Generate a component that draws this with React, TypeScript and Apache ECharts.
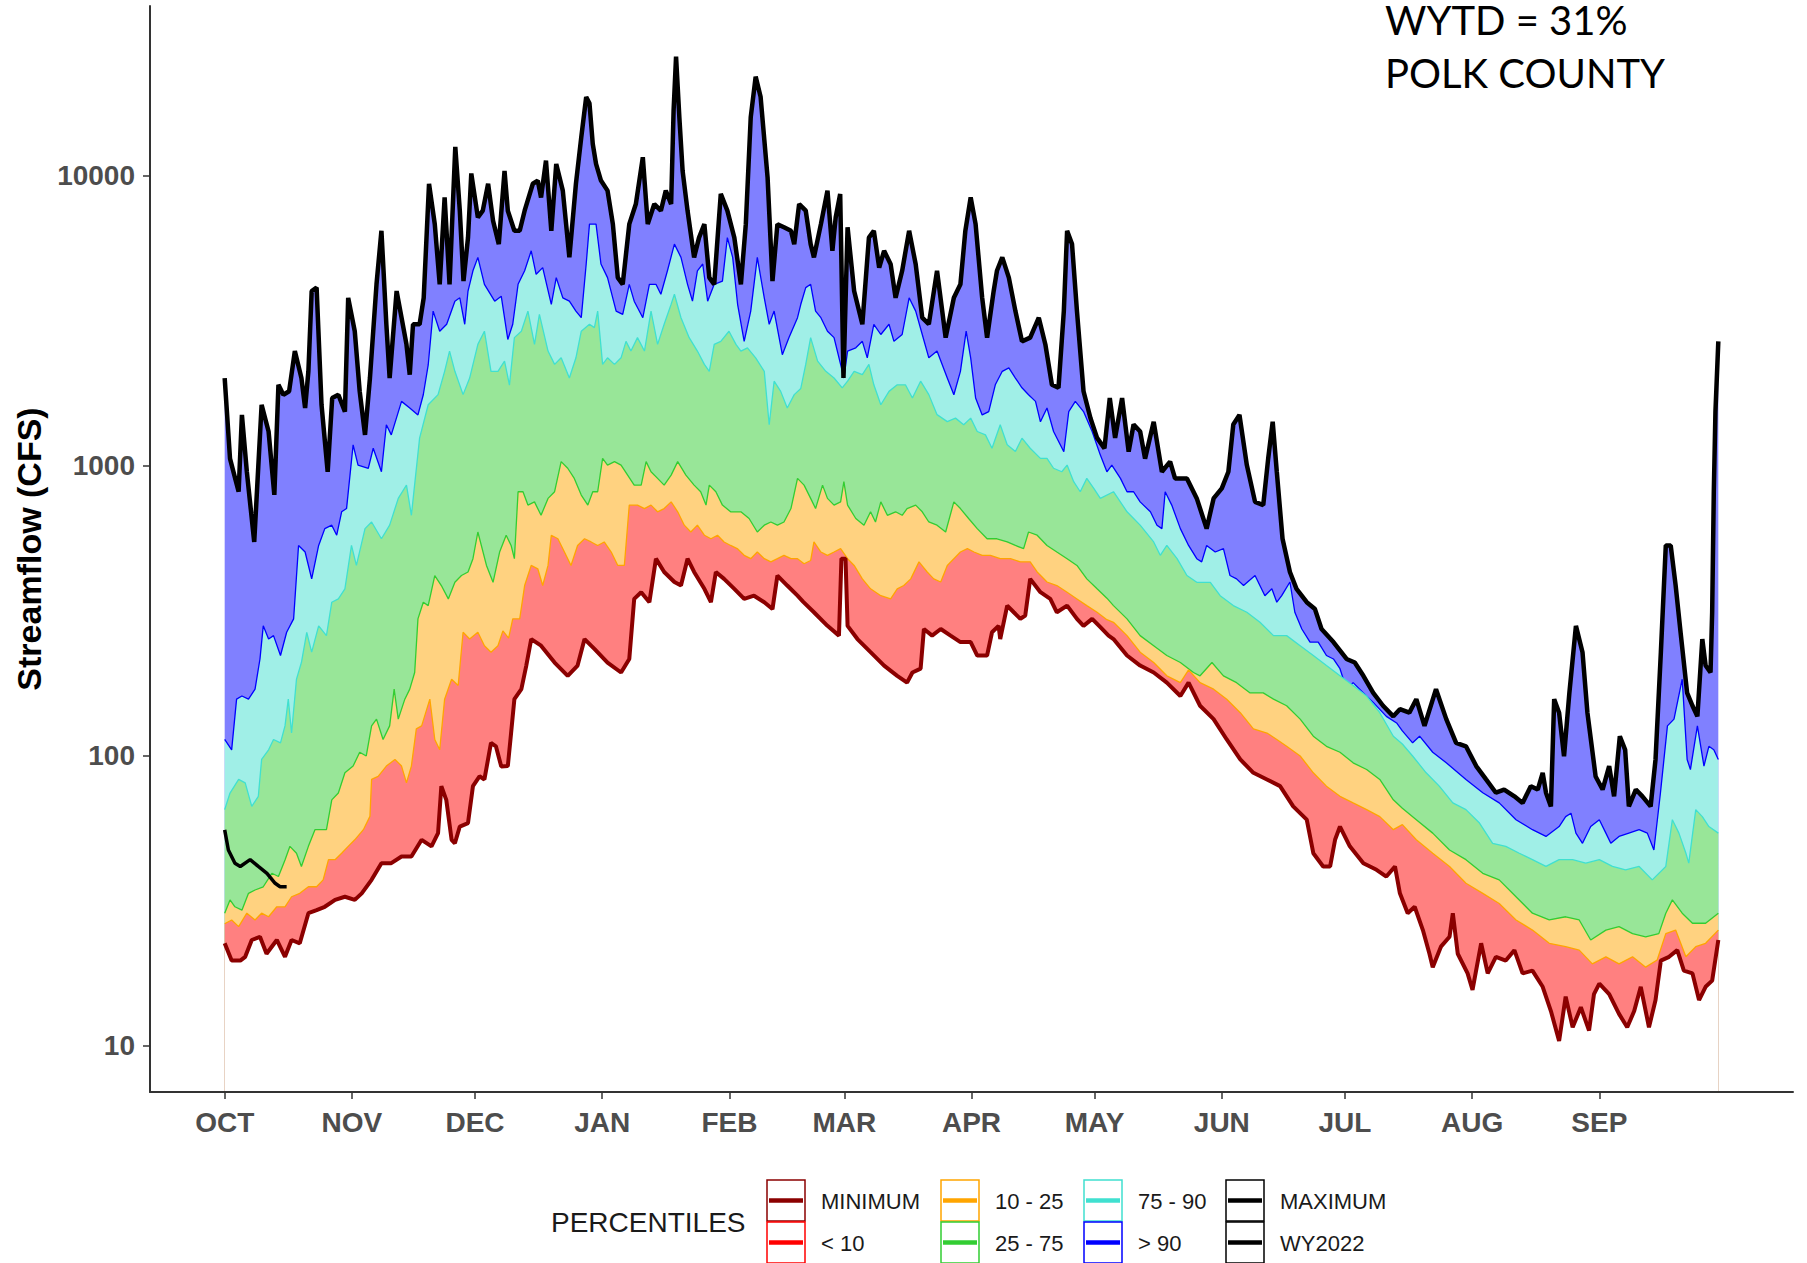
import React, { useEffect, useRef } from "react";
import * as echarts from "echarts";

// Day of water year (0 = Oct 1) for each month tick
const monthDays = [0, 31, 61, 92, 123, 151, 182, 212, 243, 273, 304, 335];
const monthLabels = ["OCT", "NOV", "DEC", "JAN", "FEB", "MAR", "APR", "MAY", "JUN", "JUL", "AUG", "SEP"];
const yTickValues = [10, 100, 1000, 10000];

// [day of water year, streamflow cfs]
const maxFlow: [number, number][] = [
  [0, 2010], [1.3, 1060], [3.4, 815], [4.2, 1500], [5.4, 955], [7.2, 547], [9, 1625], [10.7, 1315], [12.1, 795], [13.1, 1905],
  [14.3, 1760], [15.7, 1810], [17.1, 2490], [18.7, 2010], [19.6, 1585], [20.4, 2120], [21.2, 4010], [22.4, 4120], [23.6, 1625], [25.1, 955],
  [26.2, 1715], [27.7, 1760], [29.3, 1540], [30.1, 3800], [31.7, 2915], [32.9, 1810], [34.2, 1280], [35.4, 2010], [37, 4230], [38.2, 6470],
  [39.4, 3080], [40.2, 2010], [41.9, 4010], [43.1, 3245], [44.3, 2625], [45.1, 2065], [45.9, 3080], [47.5, 3080], [48.5, 3800], [49.8, 9400],
  [51.2, 6820], [52.4, 4230], [53.6, 8430], [54.8, 4230], [56.2, 12600], [57.3, 7590], [58.2, 4340], [59.3, 6130], [60.1, 10200], [61.7, 7190],
  [62.9, 7590], [64.2, 9400], [65.4, 7010], [66.8, 5820], [68.2, 10400], [69, 7590], [70.6, 6470], [71.9, 6470], [73.1, 7590], [75.1, 9400],
  [76.3, 9640], [77.1, 8430], [78.3, 11300], [79.6, 6470], [80.8, 11000], [82.4, 8900], [84, 5240], [85.6, 9400], [86.9, 13600], [88.1, 18700],
  [88.9, 17800], [89.7, 12900], [90.5, 11000], [91.7, 9640], [93.3, 8900], [94.6, 6820], [95.8, 4460], [97, 4230], [98.6, 6820], [100.2, 8000],
  [101.9, 11600], [103.1, 6820], [104.7, 8000], [106.3, 7590], [107.5, 8900], [108.8, 8000], [109.4, 16800], [110, 25800], [110.8, 15950], [111.6, 10400],
  [112.8, 7590], [114.4, 5240], [115.6, 6130], [116.9, 6820], [118.1, 4460], [119.3, 4230], [120.9, 8670], [122.5, 7590], [124.2, 6130], [125.8, 4230],
  [127, 6820], [128.2, 15950], [129.4, 22000], [130.6, 18750], [132.3, 9900], [133.5, 4340], [134.7, 6820], [136.3, 6650], [138, 6470], [138.8, 5820],
  [140, 8000], [141.6, 7590], [142.8, 5820], [143.6, 5240], [145.3, 6820], [146.9, 8900], [148.1, 5520], [148.9, 7190], [150, 8670], [150.8, 2010],
  [151.8, 6650], [153.4, 4010], [155.4, 3080], [157, 6130], [158.2, 6470], [159.5, 4830], [160.7, 5520], [162.3, 4960], [163.5, 3800], [165.1, 4710],
  [166.8, 6470], [168.4, 4960], [170, 3245], [171.6, 3080], [173.6, 4710], [175.7, 2770], [177.7, 3800], [179.3, 4230], [180.5, 6470], [181.8, 8430],
  [183, 6820], [184.6, 3800], [185.8, 2770], [187.4, 4010], [188.2, 4710], [189.5, 5240], [191.1, 4460], [192.7, 3420], [194.3, 2690], [196.3, 2770],
  [198.4, 3245], [200, 2625], [201.6, 1905], [203.2, 1860], [204.5, 3420], [205.3, 6470], [206.5, 5820], [207.7, 3420], [209.3, 1810], [211, 1460],
  [212.6, 1250], [214.4, 1150], [215.7, 1715], [217, 1250], [218.7, 1715], [220.3, 1120], [221.5, 1390], [223.1, 1315], [224.3, 1060], [226.4, 1420],
  [228.4, 955], [230.4, 1035], [231.6, 906], [234.5, 906], [236.9, 773], [239.3, 608], [241, 773], [243, 837], [244.6, 955], [245.8, 1390],
  [247.3, 1500], [249.1, 1007], [251.1, 752], [253.1, 733], [254.3, 1060], [255.4, 1420], [256.4, 955], [257.8, 561], [259.6, 431], [261.2, 377],
  [263.7, 339], [265.7, 321], [267.3, 274], [270.2, 247], [273.4, 216], [275.4, 210], [277.5, 189], [279.9, 165], [282.3, 149], [284.8, 137],
  [286.4, 145], [288.7, 141], [290.4, 157], [292.4, 127], [295.2, 170], [297.7, 134], [300.1, 111], [302.5, 108], [305, 92.3], [307.4, 83],
  [309.8, 74.7], [311.8, 76.6], [314.3, 72.6], [316.3, 68.9], [318.3, 78.7], [320, 76.6], [321.2, 87.5], [322, 74.7], [323.2, 67], [324, 157],
  [325.2, 141], [326.4, 99.8], [327.7, 165], [329.3, 281], [330.9, 228], [332.1, 141], [334.1, 85], [335.8, 76.6], [337.4, 92.3], [338.6, 72.6],
  [340, 117], [341.3, 105], [342.2, 67], [343.9, 76.6], [345.5, 72.6], [347.5, 67], [348.7, 97.3], [350, 228], [351.2, 532], [352.4, 532],
  [353.6, 387], [354.8, 267], [356.4, 165], [357.7, 149], [358.9, 137], [360.1, 253], [360.9, 205], [362.1, 194], [362.5, 313], [362.9, 815],
  [363.3, 1540], [364, 2690],
];

const p90Flow: [number, number][] = [
  [0, 114], [1.7, 105], [2.9, 157], [4.2, 161], [5.8, 157], [7.4, 170], [8.6, 216], [9.4, 281], [10.7, 253], [11.9, 260],
  [13.6, 222], [15.1, 267], [16.8, 297], [18, 532], [19.6, 505], [21.2, 408], [22.9, 532], [24.4, 608], [26.1, 625], [27.3, 577],
  [28.5, 695], [29.7, 713], [31.3, 1183], [32.5, 1007], [35, 982], [36.2, 1151], [38.2, 955], [39.4, 1387], [40.6, 1280], [43.1, 1670],
  [45.1, 1585], [47.1, 1500], [48.4, 1760], [49.6, 2230], [50.8, 3420], [52.4, 2915], [54.1, 3080], [56.1, 3700], [57.3, 3800], [58.5, 3080],
  [59.3, 4010], [60.5, 4710], [61.7, 5240], [63.3, 4230], [65.8, 3700], [67.4, 3850], [69, 2730], [70.2, 3080], [71.5, 4230], [73.1, 4710],
  [74.7, 5520], [75.9, 4580], [77.5, 4830], [79.6, 3610], [80.8, 4460], [82.4, 3800], [84, 3700], [85.6, 3420], [86.9, 3245], [88.1, 4970],
  [88.9, 6820], [90.5, 6820], [91.7, 4970], [93.3, 4460], [95.4, 3420], [97, 3330], [98.6, 4230], [99.8, 3700], [101.9, 3245], [103.5, 4230],
  [105.1, 4230], [106.3, 3910], [107.9, 4710], [109.6, 5820], [111.2, 5240], [112.8, 4230], [114, 3700], [115.2, 4710], [116.5, 4970], [117.7, 3700],
  [119.3, 4230], [121.3, 4340], [122.5, 6130], [123.8, 5240], [125, 3610], [126.6, 2690], [128.2, 3420], [129.8, 5240], [131.5, 3800], [132.7, 3080],
  [133.9, 3420], [135.9, 2420], [137.5, 2770], [139.6, 3245], [140.4, 3610], [141.6, 4120], [142.8, 4230], [144, 3420], [145.3, 3245], [146.9, 2915],
  [148.5, 2770], [150.1, 2240], [150.9, 2010], [151.8, 2490], [153.8, 2555], [155.4, 2690], [156.6, 2360], [158.2, 3080], [159.9, 2840], [161.9, 3080],
  [163.1, 2690], [165.1, 2840], [166.8, 3800], [168.4, 3420], [170, 2840], [171.6, 2360], [173.6, 2490], [176.1, 2010], [177.7, 1760], [179.3, 2120],
  [180.7, 2915], [181.8, 2360], [183, 1715], [184.6, 1500], [186.2, 1540], [187.8, 1905], [189.5, 2120], [191.1, 2180], [192.7, 2010], [194.3, 1860],
  [195.9, 1760], [197.6, 1670], [198.8, 1420], [200.4, 1585], [202, 1315], [204.5, 1120], [205.7, 1540], [207.3, 1670], [209.3, 1540], [211.4, 1315],
  [213.4, 1090], [215, 955], [216.2, 1007], [218.3, 906], [219.9, 815], [221.5, 815], [223.1, 752], [225.6, 695], [227.2, 625], [228.4, 608],
  [229.2, 815], [230.8, 733], [232.9, 608], [234.9, 532], [236.9, 479], [238.1, 467], [239.3, 532], [241.4, 505], [243.4, 519], [245, 419],
  [246.6, 408], [248.3, 387], [251.1, 419], [253.5, 357], [255.2, 377], [256.4, 339], [257.6, 357], [259.6, 398], [260.8, 313], [262.5, 274],
  [264.5, 247], [266.5, 247], [268.5, 222], [270.2, 216], [271.8, 200], [273.4, 170], [275, 179], [277.5, 165], [279.9, 153], [283.1, 137],
  [285.6, 130], [287, 122], [289.5, 111], [291.2, 117], [294.4, 103], [297.7, 94.7], [302.5, 83], [306.6, 74.7], [310.6, 68.9], [314.7, 60.3],
  [318.7, 55.7], [322, 52.8], [325.2, 57.1], [326.8, 61.8], [328.1, 63.5], [329.3, 54.2], [330.9, 50], [332.9, 57.1], [335, 60.3], [336.6, 54.2],
  [337.8, 50], [339.8, 52.8], [342.2, 54.2], [344.7, 55.7], [346.7, 54.2], [348.3, 47.4], [349.9, 74.7], [351.6, 127], [353.2, 134], [355.2, 184],
  [356.4, 97.3], [357.2, 89.8], [358.9, 127], [360.5, 92.3], [361.7, 108], [362.9, 105], [364, 97.3],
];

const p75Flow: [number, number][] = [
  [0, 65.3], [1.3, 74.5], [3.4, 83], [5, 80.8], [6.6, 67], [8.2, 72.6], [9, 97.3], [10.7, 105], [11.9, 114], [13.6, 111],
  [14.7, 127], [15.5, 157], [16.3, 120], [17.5, 184], [18.7, 210], [20, 267], [21.2, 228], [22.9, 281], [24.8, 260], [26.1, 339],
  [27.7, 348], [29.3, 377], [30.9, 532], [32.1, 454], [34.2, 608], [35.8, 641], [38.2, 561], [40.2, 625], [42.3, 773], [44.3, 859],
  [45.5, 676], [47.5, 1247], [49.6, 1626], [52, 1762], [53.6, 2120], [54.8, 2490], [56.1, 2120], [58.1, 1762], [59.7, 2010], [61.7, 2625],
  [63.3, 2915], [64.9, 2120], [66.6, 2120], [68.2, 2300], [69.4, 1900], [70.6, 2770], [72.3, 2915], [73.9, 3420], [75.5, 2625], [76.7, 3330],
  [78.8, 2490], [80.4, 2240], [82, 2360], [84, 2010], [85.6, 2360], [86.9, 2915], [88.9, 3080], [90.1, 3000], [90.9, 3420], [92.1, 2240],
  [93.3, 2360], [95, 2240], [96.6, 2360], [97.8, 2690], [99, 2490], [100.6, 2770], [102.3, 2490], [103.9, 3420], [105.5, 2625], [107.1, 3080],
  [108.8, 3610], [109.6, 3910], [111.2, 3245], [113.2, 2770], [115.2, 2490], [116.9, 2240], [118.1, 2120], [119.3, 2625], [120.9, 2690], [122.9, 2915],
  [124.6, 2625], [125.8, 2490], [127.4, 2555], [129.4, 2360], [131.5, 2120], [132.7, 1387], [133.9, 1960], [135.5, 1808], [137.1, 1585], [138.8, 1762],
  [140.4, 1850], [141.6, 2240], [142.8, 2770], [144.5, 2300], [146.5, 2120], [148.5, 2010], [150.5, 1860], [151.8, 1960], [153.4, 2120], [155.4, 2065],
  [157, 2240], [158.2, 1905], [159.9, 1626], [161.9, 1808], [163.9, 1905], [165.9, 1905], [167.6, 1715], [169.6, 1960], [171.6, 1762], [173.6, 1503],
  [176.1, 1422], [178.1, 1462], [180.1, 1387], [181.8, 1462], [183.4, 1315], [185.4, 1280], [187, 1151], [189, 1387], [190.7, 1183], [192.7, 1122],
  [194.3, 1247], [196.3, 1151], [198.8, 1062], [200.4, 1062], [202, 982], [204, 955], [205.3, 1007], [206.9, 883], [208.5, 815], [210.1, 906],
  [211.8, 837], [213.4, 773], [216.6, 815], [219.9, 695], [223.1, 625], [226.4, 547], [228, 492], [229.6, 532], [232.1, 479], [234.5, 419],
  [236.9, 397], [240.2, 397], [242.6, 357], [245.8, 330], [249.1, 313], [252.3, 289], [255.6, 260], [258.8, 260], [262.1, 240], [265.3, 222],
  [268.5, 205], [271.8, 189], [275, 175], [278.3, 161], [281.5, 141], [284.8, 117], [287, 110], [289.5, 100], [292.8, 87.5], [296, 78.7],
  [299.3, 68.9], [302.5, 65.3], [305.8, 58.7], [309, 50], [312.2, 48.8], [315.5, 46.2], [318.7, 43.9], [322, 41.6], [325.2, 43.9], [328.5, 43.9],
  [331.7, 42.7], [335, 43.9], [338.2, 41.6], [341.4, 40.5], [344.7, 41.6], [347.9, 37.4], [351.2, 41.6], [352.8, 60.3], [354.4, 54.2], [356.1, 46.2],
  [356.8, 42.7], [358.5, 65.3], [360.1, 61.8], [361.7, 57.1], [364, 54.2],
];

const p25Flow: [number, number][] = [
  [0, 28.7], [1.3, 31.9], [2.5, 30.2], [4.2, 29.4], [5.8, 33.6], [7.4, 34.5], [9.4, 35.4], [11.5, 39.4], [13.1, 38.4], [14.7, 43.8],
  [15.9, 48.8], [17.5, 46.2], [18.7, 41.6], [20.4, 48.8], [22, 55.7], [24.8, 55.7], [26.1, 70.6], [27.7, 74.5], [29.3, 87.5], [31.3, 92.3],
  [32.9, 103], [34.5, 100], [35.8, 127], [37, 134], [38.6, 114], [40.2, 127], [41.3, 170], [42.3, 134], [43.9, 157], [45.1, 170],
  [46.3, 194], [47.1, 297], [48.4, 339], [49.6, 330], [51.2, 419], [52.8, 387], [54.5, 348], [56.1, 397], [57.7, 419], [59.3, 431],
  [60.5, 479], [61.7, 592], [63.8, 454], [65.4, 397], [67, 505], [68.6, 577], [69.8, 532], [70.6, 479], [71.5, 815], [72.7, 815],
  [73.9, 733], [75.5, 752], [77.1, 676], [78.8, 773], [80.4, 815], [82, 1035], [83.6, 982], [85.2, 906], [86.9, 794], [88.5, 733],
  [89.7, 815], [90.9, 815], [92.1, 1062], [93.3, 1007], [95, 1035], [96.6, 1007], [98.2, 930], [99.8, 859], [101.5, 859], [102.7, 1035],
  [103.9, 955], [105.5, 906], [107.1, 859], [108.8, 930], [110.4, 1035], [112.4, 930], [114.4, 859], [116, 815], [117.3, 733], [118.1, 859],
  [119.7, 815], [121.3, 733], [123.3, 695], [125.8, 695], [127.8, 659], [129.8, 592], [131.5, 625], [133.1, 641], [134.7, 625], [136.3, 641],
  [138, 713], [139.6, 906], [141.2, 859], [142.8, 773], [144, 713], [145.7, 859], [146.9, 773], [148.5, 733], [150.1, 752], [150.9, 883],
  [151.8, 733], [153.8, 659], [155.8, 625], [157.4, 695], [158.6, 641], [159.9, 752], [161.5, 676], [163.5, 695], [165.1, 676], [166.3, 713],
  [168.4, 733], [170, 695], [171.6, 641], [173.6, 625], [175.7, 592], [177.7, 752], [179.3, 713], [181.3, 659], [183.4, 608], [185.8, 561],
  [188.2, 561], [190.7, 547], [192.7, 532], [194.7, 519], [195.9, 592], [198, 577], [200.4, 532], [202.8, 505], [205.3, 479], [207.7, 454],
  [210.1, 408], [212.6, 377], [215, 350], [216.6, 330], [219.9, 297], [223.1, 260], [226.4, 240], [229.6, 222], [232.9, 210], [236.1, 194],
  [237.7, 189], [240.6, 210], [243.4, 189], [246.6, 179], [249.9, 165], [253.1, 165], [255.6, 157], [258.8, 149], [262.1, 134], [265.3, 117],
  [268.5, 108], [271.8, 103], [275, 94.7], [278.3, 89.8], [281.5, 83], [284.8, 70.6], [287, 66], [290.4, 60.3], [294.4, 54.2], [298.5, 47.4],
  [302.5, 43.9], [306.6, 39.4], [310.6, 37.4], [314.7, 32.7], [318.7, 28.7], [322.8, 27.2], [326.8, 27.9], [330.1, 27.2], [332.9, 23.2], [336.6, 25.1],
  [339.8, 25.8], [343.1, 24.4], [346.3, 23.8], [349.5, 24.4], [351.2, 28.7], [352.8, 31.9], [355.2, 28.7], [357.7, 26.5], [360.9, 26.5], [364, 28.7],
];

const p10Flow: [number, number][] = [
  [0, 26.4], [1.7, 27.2], [3.4, 25.8], [5.4, 28.7], [7.4, 27.2], [9, 28.7], [10.7, 27.9], [12.7, 30.2], [14.7, 30.2], [16.3, 32.7],
  [18.3, 33.6], [20.4, 35.4], [22.4, 35.4], [24, 37.4], [25.3, 43.9], [26.9, 43.9], [28.5, 46.2], [30.1, 48.8], [31.7, 51.4], [33.8, 55.7],
  [35.4, 61.9], [35.8, 83], [37.4, 85.1], [39.4, 92.3], [41.5, 97.3], [43.1, 92.3], [44.3, 80.8], [45.5, 92.3], [46.7, 124], [48, 127],
  [50, 157], [51.2, 114], [52.4, 105], [53.6, 157], [55.3, 184], [56.9, 175], [58.1, 267], [59.7, 253], [61.7, 267], [63.3, 240],
  [64.9, 228], [66.6, 240], [67.8, 270], [69.2, 255], [70.2, 297], [71.9, 297], [73.1, 387], [74.7, 454], [76.3, 442], [77.5, 387],
  [78.8, 454], [79.6, 577], [81.2, 561], [82.8, 505], [84.4, 454], [86, 532], [87.7, 561], [89.3, 547], [90.9, 532], [92.5, 547],
  [94.2, 505], [95.8, 454], [97.4, 454], [98.6, 733], [100.6, 733], [102.3, 713], [103.9, 733], [105.5, 695], [107.1, 713], [108.8, 752],
  [110.4, 695], [112, 625], [113.6, 592], [115.2, 625], [116.9, 577], [118.5, 561], [120.1, 577], [121.7, 547], [123.3, 532], [124.9, 519],
  [126.6, 492], [128.2, 479], [129.8, 505], [131.5, 479], [133.1, 467], [134.7, 479], [136.3, 492], [138, 479], [139.6, 479], [141.2, 460],
  [142.8, 472], [143.6, 547], [145.3, 505], [146.9, 492], [148.5, 505], [150.1, 519], [151.8, 479], [153.4, 454], [155.4, 408], [157.4, 377],
  [159.9, 357], [162.3, 348], [163.9, 377], [165.5, 387], [167.2, 408], [169.2, 467], [171.2, 431], [172.8, 408], [174.5, 398], [176.1, 454],
  [177.7, 479], [179.3, 505], [181, 519], [182.6, 505], [184.6, 492], [186.6, 492], [189, 479], [191.5, 479], [193.9, 467], [196.3, 467],
  [198, 431], [200.4, 398], [202.8, 387], [205.3, 367], [207.7, 348], [210.1, 330], [212.6, 313], [215, 295], [216.6, 289], [219.9, 260],
  [223.1, 228], [226.4, 210], [229.6, 189], [232.9, 179], [234.9, 198], [237.7, 179], [241, 170], [244.2, 157], [247.5, 141], [250.7, 124],
  [254, 120], [256.4, 114], [258.8, 108], [262.1, 100], [265.3, 87.5], [268.5, 78.7], [271.8, 72.6], [275, 68.9], [278.3, 65.3], [281.5, 61.8],
  [284.8, 55.7], [287, 58], [290.4, 51.4], [294.4, 46.2], [298.5, 41.6], [302.5, 36.4], [306.6, 33.6], [310.6, 31], [314.7, 27.2], [318.7, 25.1],
  [322.8, 22.6], [326.8, 22], [330.1, 21.4], [333.3, 19.2], [336.6, 20.3], [339.8, 19.2], [343.1, 20.3], [346.3, 18.7], [349.1, 19.8], [351.2, 24.4],
  [353.6, 25.1], [356.1, 20.3], [358.5, 22], [360.9, 22.6], [364, 25.1],
];

const minFlow: [number, number][] = [
  [0, 22.6], [1.7, 19.7], [3.8, 19.7], [5, 20.3], [6.6, 23.2], [8.6, 23.8], [10.2, 20.8], [12.7, 23.2], [14.7, 20.3], [16.3, 23.2],
  [18.3, 22.6], [20.4, 28.7], [22.4, 29.4], [24.4, 30.2], [26.9, 31.9], [29.3, 32.7], [31.7, 31.9], [33.4, 33.6], [35.8, 37.4], [38.2, 42.7],
  [40.6, 42.7], [43.1, 45], [45.5, 45], [48, 51.4], [50.4, 48.8], [52, 54.2], [52.8, 78.7], [54, 70.6], [55.3, 51.4], [56.1, 50],
  [57.3, 57.1], [59.3, 58.7], [60.5, 78.7], [62.1, 85.1], [63.3, 83], [64.9, 111], [66.1, 108], [67.4, 92], [69, 92.3], [69.8, 120],
  [70.6, 157], [72.3, 170], [73.5, 205], [74.7, 253], [77.1, 240], [80.4, 210], [83.6, 189], [86, 205], [87.7, 253], [90.1, 234],
  [93.3, 210], [96.6, 194], [98.6, 216], [99.8, 348], [101.5, 367], [103.5, 339], [105.1, 479], [107.1, 431], [109.6, 398], [111.2, 387],
  [112.8, 479], [114.4, 431], [116.9, 377], [118.5, 339], [119.7, 431], [121.7, 408], [124.2, 377], [126.6, 348], [129, 357], [131.5, 339],
  [133.5, 321], [134.7, 419], [137.1, 387], [139.6, 357], [141, 340], [143.6, 313], [146.9, 281], [149.7, 260], [150.3, 479], [151.3, 479],
  [151.8, 281], [154.2, 253], [157.4, 228], [160.7, 205], [163.9, 189], [166.3, 179], [167.6, 194], [169.6, 200], [170.4, 274], [172.4, 260],
  [174.5, 274], [176.9, 260], [179.3, 247], [181.8, 247], [183.4, 222], [185.8, 222], [187, 267], [188.6, 281], [189, 253], [190.7, 330],
  [192.3, 313], [193.9, 297], [195.1, 305], [196.3, 408], [198.8, 367], [201.2, 348], [202.8, 313], [205.3, 330], [207.7, 297], [209.3, 281],
  [211.4, 297], [213.4, 278], [215.4, 260], [216.6, 253], [219.9, 222], [223.1, 205], [226.4, 194], [229.6, 179], [232.9, 161], [234.9, 179],
  [237.7, 149], [241, 134], [244.2, 114], [247.5, 97.3], [250.7, 87.5], [254, 83], [257.2, 78.7], [260.4, 67], [263.7, 60.3], [265.3, 46.2],
  [267.7, 41.6], [269.4, 41.6], [270.6, 51.4], [271.8, 57.1], [274.2, 48.8], [277.5, 42.7], [280.7, 40.5], [283.1, 38.4], [285.2, 41.6], [286.4, 33.6],
  [288.3, 28.7], [290, 30.2], [292, 25.1], [293.6, 20.8], [294.4, 18.7], [296.4, 22], [298.5, 23.8], [299.3, 28.7], [300.5, 20.8], [302.9, 17.8],
  [304.1, 15.6], [306.2, 22.6], [307.8, 17.8], [309.8, 20.3], [312.2, 19.7], [314.3, 21.4], [316.3, 17.8], [318.7, 18.2], [321.2, 16], [323.2, 13.2],
  [325.2, 10.4], [326.8, 14.8], [328.5, 11.6], [330.5, 13.6], [332.5, 11.3], [333.7, 15.1], [335, 16.4], [337.4, 15.1], [339.8, 12.9], [341.8, 11.6],
  [343.5, 13.2], [345.1, 16], [347.1, 11.6], [348.7, 14.4], [350, 19.7], [352, 20.3], [354, 21.4], [355.6, 18.2], [357.7, 17.8], [359.3, 14.4],
  [360.9, 16], [362.5, 16.8], [364, 23.2],
];

const wy2022Flow: [number, number][] = [
  [0, 55.6], [0.9, 47.4], [2.5, 42.7], [3.8, 41.6], [6.2, 43.9], [8.2, 41.6], [10.3, 39.4], [12.3, 36.4], [13.5, 35.4], [15.1, 35.4],
];

const legendItems = [
  { label: "MINIMUM", color: "#8B0000", col: 0, row: 0 },
  { label: "< 10", color: "#FF0000", col: 0, row: 1 },
  { label: "10 - 25", color: "#FFA500", col: 1, row: 0 },
  { label: "25 - 75", color: "#32CD32", col: 1, row: 1 },
  { label: "75 - 90", color: "#40E0D0", col: 2, row: 0 },
  { label: "> 90", color: "#0000FF", col: 2, row: 1 },
  { label: "MAXIMUM", color: "#000000", col: 3, row: 0 },
  { label: "WY2022", color: "#000000", col: 3, row: 1 },
];

const FONT = "'Liberation Sans', Arial, Helvetica, sans-serif";

export default function App() {
  const ref = useRef<HTMLDivElement>(null);

  useEffect(() => {
    if (!ref.current) return;
    const chart = echarts.init(ref.current, null, { renderer: "svg" });

    const band = (name: string, data: [number, number][], fill: string, line: string, width: number, z: number) => ({
      type: "line",
      name,
      data,
      symbol: "none",
      showSymbol: false,
      silent: true,
      z,
      lineStyle: { color: line, width },
      areaStyle: { color: fill, opacity: 1, origin: "start" },
    });

    const legendColX = [767, 941, 1084, 1226];
    const legendRowY = [1180, 1222];
    const legendGraphics: any[] = [];
    legendGraphics.push({
      type: "text",
      left: 551,
      top: 1208,
      style: { text: "PERCENTILES", font: `28px ${FONT}`, fill: "#1a1a1a" },
    });
    legendItems.forEach((it) => {
      const x = legendColX[it.col];
      const y = legendRowY[it.row];
      legendGraphics.push({
        type: "rect",
        shape: { x: x, y: y, width: 38, height: 41 },
        style: { fill: "#ffffff", stroke: it.color, lineWidth: 1.5 },
      });
      legendGraphics.push({
        type: "line",
        shape: { x1: x + 2, y1: y + 20.5, x2: x + 36, y2: y + 20.5 },
        style: { stroke: it.color, lineWidth: 4.5 },
      });
      legendGraphics.push({
        type: "text",
        x: x + 54,
        y: y + 21.5,
        style: { text: it.label, font: `22px ${FONT}`, fill: "#1a1a1a", textVerticalAlign: "middle", textAlign: "left" },
      });
    });

    chart.setOption({
      animation: false,
      backgroundColor: "#ffffff",
      grid: { left: 150, right: 14, top: 6, bottom: 171 },
      xAxis: {
        type: "value",
        min: -18.2,
        max: 382.2,
        z: 10,
        splitLine: { show: false },
        axisLine: { show: true, onZero: false, lineStyle: { color: "#333333", width: 2 } },
        axisTick: { show: true, customValues: monthDays, length: 7, lineStyle: { color: "#333333", width: 1.5 } },
        axisLabel: {
          customValues: monthDays,
          margin: 16,
          fontFamily: FONT,
          fontSize: 28,
          fontWeight: "bold",
          color: "#4D4D4D",
          formatter: (v: number) => {
            const i = monthDays.indexOf(Math.round(v));
            return i >= 0 ? monthLabels[i] : "";
          },
        },
      },
      yAxis: {
        type: "log",
        logBase: 10,
        min: 6.94,
        max: 38550,
        z: 10,
        name: "Streamflow (CFS)",
        nameLocation: "middle",
        nameGap: 104,
        nameTextStyle: { fontFamily: FONT, fontSize: 34, fontWeight: "bold", color: "#000000" },
        splitLine: { show: false },
        axisLine: { show: true, onZero: false, lineStyle: { color: "#333333", width: 2 } },
        axisTick: { show: true, customValues: yTickValues, length: 7, lineStyle: { color: "#333333", width: 1.5 } },
        axisLabel: {
          customValues: yTickValues,
          margin: 15,
          fontFamily: FONT,
          fontSize: 28,
          fontWeight: "bold",
          color: "#4D4D4D",
          formatter: (v: number) => String(Math.round(v)),
        },
      },
      series: [
        band("> 90", maxFlow, "#8080FF", "#8080FF", 0, 1),
        band("75 - 90", p90Flow, "#A0EFE7", "#0000FF", 1.3, 2),
        band("25 - 75", p75Flow, "#98E698", "#40E0D0", 1.3, 3),
        band("10 - 25", p25Flow, "#FFD280", "#32CD32", 1.3, 4),
        band("< 10", p10Flow, "#FF8080", "#FFA500", 1.3, 5),
        band("MINIMUM", minFlow, "#FFFFFF", "#8B0000", 4, 6),
        {
          type: "line",
          name: "MAXIMUM",
          data: maxFlow,
          symbol: "none",
          silent: true,
          z: 7,
          lineStyle: { color: "#000000", width: 4.5 },
        },
        {
          type: "line",
          name: "WY2022",
          data: wy2022Flow,
          symbol: "none",
          silent: true,
          z: 8,
          lineStyle: { color: "#000000", width: 3.5 },
        },
      ],
      graphic: [
        {
          type: "text",
          left: 1385,
          top: 0,
          style: { text: "WYTD = 31%", font: `40px Lato, 'Open Sans', sans-serif`, fill: "#000000" },
        },
        {
          type: "text",
          left: 1385,
          top: 53,
          style: { text: "POLK COUNTY", font: `40px Lato, 'Open Sans', sans-serif`, fill: "#000000" },
        },
        ...legendGraphics,
      ],
    });

    return () => chart.dispose();
  }, []);

  return (
    <div
      ref={ref}
      style={{ position: "fixed", left: 0, top: 0, width: 1807, height: 1263, background: "#ffffff" }}
    />
  );
}
